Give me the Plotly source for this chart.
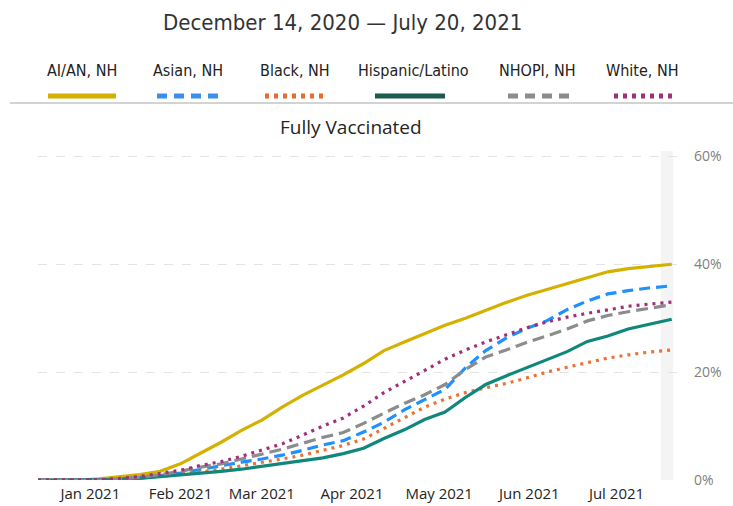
import plotly.graph_objects as go

# ---- data ----
dates = ["2020-12-14", "2020-12-21", "2020-12-28", "2021-01-04", "2021-01-11", "2021-01-18",
         "2021-01-25", "2021-02-01", "2021-02-08", "2021-02-15", "2021-02-22", "2021-03-01",
         "2021-03-08", "2021-03-15", "2021-03-22", "2021-03-29", "2021-04-05", "2021-04-12",
         "2021-04-19", "2021-04-26", "2021-05-03", "2021-05-10", "2021-05-17", "2021-05-24",
         "2021-05-31", "2021-06-07", "2021-06-14", "2021-06-21", "2021-06-28", "2021-07-05",
         "2021-07-12", "2021-07-20"]

aian = [0, 0, 0, 0.2, 0.6, 1.0, 1.6, 3.0, 5.0, 7.0, 9.2, 11.1, 13.5, 15.7, 17.6, 19.5,
        21.6, 24.0, 25.6, 27.2, 28.7, 30.0, 31.5, 32.9, 34.2, 35.3, 36.4, 37.5, 38.6,
        39.2, 39.6, 40.0]
asian = [0, 0, 0, 0, 0.15, 0.4, 0.8, 1.3, 2.0, 2.6, 3.3, 3.9, 4.6, 5.5, 6.5, 7.3,
         8.9, 10.7, 13.0, 14.9, 16.8, 20.8, 24.0, 26.3, 28.1, 29.5, 31.6, 33.2, 34.5,
         35.1, 35.6, 36.0]
black = [0, 0, 0, 0, 0.1, 0.35, 0.7, 1.1, 1.5, 2.0, 2.6, 3.2, 3.9, 4.6, 5.5, 6.4,
         7.6, 9.6, 11.6, 13.5, 15.0, 16.2, 17.1, 17.9, 18.9, 20.0, 20.9, 21.8, 22.6,
         23.2, 23.7, 24.1]
hispanic = [0, 0, 0, 0, 0.1, 0.3, 0.6, 1.0, 1.2, 1.6, 2.0, 2.5, 3.0, 3.6, 4.1, 4.9,
            5.9, 7.7, 9.3, 11.2, 12.6, 15.3, 17.7, 19.3, 20.8, 22.2, 23.8, 25.7, 26.7,
            28.0, 28.9, 29.8]
nhopi = [0, 0, 0, 0, 0.2, 0.5, 1.0, 1.6, 2.4, 3.0, 3.9, 4.8, 5.7, 6.8, 7.9, 8.8,
         10.5, 12.4, 14.2, 15.8, 17.7, 20.5, 22.8, 24.1, 25.5, 26.7, 28.0, 29.5, 30.5,
         31.2, 31.8, 32.5]
white = [0, 0, 0, 0.05, 0.3, 0.65, 1.2, 1.8, 2.7, 3.4, 4.4, 5.6, 6.7, 8.3, 10.0, 11.5,
         13.7, 16.2, 18.2, 20.3, 22.4, 24.1, 25.6, 26.9, 28.2, 29.3, 30.2, 30.9, 31.6,
         32.2, 32.6, 33.0]

series_names = ["AI/AN, NH", "Asian, NH", "Black, NH", "Hispanic/Latino", "NHOPI, NH", "White, NH"]
series_values = [aian, asian, black, hispanic, nhopi, white]

x_tick_vals = ["2021-01-01", "2021-02-01", "2021-03-01", "2021-04-01", "2021-05-01",
               "2021-06-01", "2021-07-01"]
x_tick_labels = ["Jan 2021", "Feb 2021", "Mar 2021", "Apr 2021", "May 2021", "Jun 2021", "Jul 2021"]
y_tick_vals = [0, 20, 40, 60]
y_tick_labels = ["0%", "20%", "40%", "60%"]

title_text = "December 14, 2020 \u2014 July 20, 2021"
subtitle_text = "Fully Vaccinated"

# ---- styles ----
colors = ["#D4B000", "#1E90FF", "#EB7135", "#0F877B", "#8C8C8C", "#A0307E"]
legend_colors = ["#D4B000", "#3A8EF0", "#E56B2E", "#1D5A4F", "#8C8C8C", "#A0307E"]
dashes = ["solid", "11px,6px", "3px,5px", "solid", "12px,6px", "3px,5px"]
legend_dashes = ["solid", "10px,7px", "4px,5px", "solid", "10px,7px", "4px,5px"]

W, H = 733, 506
ML, MR, MT, MB = 38, 54, 151, 26
PW, PH = W - ML - MR, H - MT - MB


def px(x):
    return (x - ML) / PW


def py(y):
    return (H - MB - y) / PH


cond_font = "Liberation Sans Narrow, DejaVu Sans Condensed, Roboto Condensed, Arial Narrow, sans-serif"
ui_font = "Segoe UI, Open Sans, Noto Sans, sans-serif"

fig = go.Figure()
for name, vals, c, d in zip(series_names, series_values, colors, dashes):
    fig.add_trace(go.Scatter(x=dates, y=vals, mode="lines", name=name,
                             line=dict(color=c, width=3.2, dash=d), showlegend=False))

shapes = [
    # highlight band at the end
    dict(type="rect", xref="x", yref="y", x0="2021-07-16 06:00", x1="2021-07-20 12:00",
         y0=0, y1=61, fillcolor="#F4F4F4", line=dict(width=0), layer="below"),
    # separator line under the legend
    dict(type="line", xref="paper", yref="paper", x0=px(10), x1=px(733), y0=py(103), y1=py(103),
         line=dict(color="#C4C4C4", width=1.5)),
]

legend_centers = [82, 188, 295, 413, 537, 642]
legend_spans = [(48, 116), (157, 218), (265, 326), (375, 445), (508, 570), (614, 675)]
annotations = [
    dict(text=title_text, xref="paper", yref="paper", x=px(342), y=py(22), showarrow=False,
         xanchor="center", yanchor="middle", font=dict(family=cond_font, size=22, color="#333333")),
    dict(text=subtitle_text, xref="paper", yref="paper", x=px(351), y=py(127), showarrow=False,
         xanchor="center", yanchor="middle", font=dict(family=ui_font, size=19, color="#252423")),
]
for name, cx, (a, b), c, d in zip(series_names, legend_centers, legend_spans, legend_colors, legend_dashes):
    annotations.append(dict(text=name, xref="paper", yref="paper", x=px(cx), y=py(70),
                            showarrow=False, xanchor="center", yanchor="middle",
                            font=dict(family=cond_font, size=16, color="#222222")))
    shapes.append(dict(type="line", xref="paper", yref="paper", x0=px(a), x1=px(b),
                       y0=py(96), y1=py(96), line=dict(color=c, width=5, dash=d)))

fig.update_layout(
    width=W, height=H,
    margin=dict(l=ML, r=MR, t=MT, b=MB, pad=0),
    paper_bgcolor="white", plot_bgcolor="white",
    shapes=shapes, annotations=annotations,
    showlegend=False,
    xaxis=dict(type="date", range=["2020-12-14", "2021-07-22 12:00"],
               tickvals=x_tick_vals, ticktext=x_tick_labels, automargin=False,
               showgrid=False, zeroline=False, showline=False, ticks="", ticklabelstandoff=3,
               tickfont=dict(family=ui_font, size=15, color="#252423")),
    yaxis=dict(range=[0, 61], side="right", tickvals=y_tick_vals, ticktext=y_tick_labels,
               showgrid=True, gridcolor="#E3E3E3", griddash="dash", gridwidth=1,
               zeroline=False, showline=False, ticks="", ticklabelstandoff=14, automargin=False,
               tickfont=dict(family=ui_font, size=14, color="#808080")),
)

fig.write_html("out.html", config={"displayModeBar": False},
               post_script="document.body.style.margin='0';document.body.style.padding='0';")
